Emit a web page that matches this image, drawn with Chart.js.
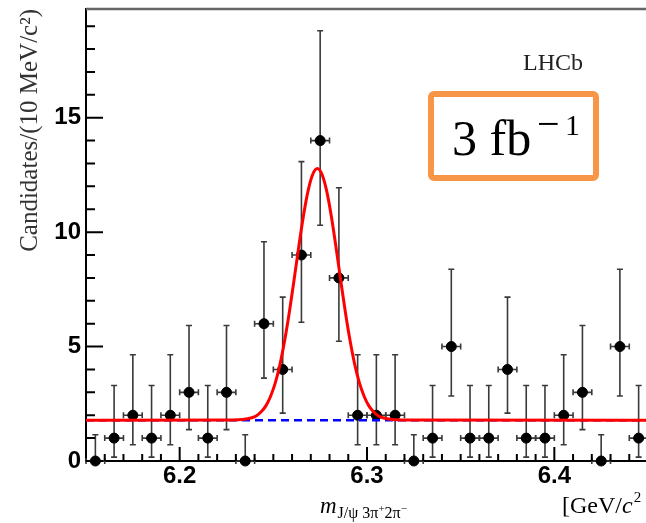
<!DOCTYPE html>
<html>
<head>
<meta charset="utf-8">
<script src="https://cdn.jsdelivr.net/npm/chart.js@4.4.1/dist/chart.umd.min.js"></script>
<style>
  html, body { margin: 0; padding: 0; background: #fff; overflow: hidden; }
  #contenedor { width: 648px; height: 523px; }
</style>
</head>
<body>
<div id="contenedor"><canvas id="graficoMasa" width="648" height="523"></canvas></div>
<script>
// datos del histograma (centros de bin de 10 MeV)
const centrosBin = [
  6.155, 6.165, 6.175, 6.185, 6.195, 6.205, 6.215, 6.225, 6.235, 6.245,
  6.255, 6.265, 6.275, 6.285, 6.295, 6.305, 6.315, 6.325, 6.335, 6.345,
  6.355, 6.365, 6.375, 6.385, 6.395, 6.405, 6.415, 6.425, 6.435, 6.445,
];
const conteos = [0, 1, 2, 1, 2, 3, 1, 3, 0, 6, 4, 9, 14, 8, 2, 2, 2, 0, 1, 5, 1, 1, 4, 1, 1, 2, 3, 0, 5, 1];
const limiteInferior = [
  0, 0.17, 0.71, 0.17, 0.71, 1.37, 0.17, 1.37, 0, 3.62,
  2.09, 6.06, 10.3, 5.23, 0.71, 0.71, 0.71, 0, 0.17, 2.84,
  0.17, 0.17, 2.09, 0.17, 0.17, 0.71, 1.37, 0, 2.84, 0.17,
];
const limiteSuperior = [
  1.15, 3.3, 4.64, 3.3, 4.64, 5.92, 3.3, 5.92, 1.15, 9.58,
  7.16, 13.08, 18.8, 11.94, 4.64, 4.64, 4.64, 1.15, 3.3, 8.38,
  3.3, 3.3, 7.16, 3.3, 3.3, 4.64, 5.92, 1.15, 8.38, 3.3,
];
const medioAnchoBin = 0.005;

// curva del ajuste
const ajusteX = [
  6.15, 6.2285, 6.2335, 6.2385, 6.241, 6.2435, 6.246, 6.2485, 6.251, 6.2535, 6.256,
  6.2585, 6.261, 6.2635, 6.266, 6.2685, 6.271, 6.2735, 6.276, 6.2785, 6.281, 6.2835,
  6.286, 6.2885, 6.291, 6.2935, 6.296, 6.2985, 6.301, 6.3035, 6.306, 6.3085, 6.3135,
  6.3185, 6.45,
];
const ajusteY = [
  1.78, 1.79, 1.81, 1.89, 1.98, 2.15, 2.41, 2.82, 3.4, 4.2, 5.24,
  6.48, 7.87, 9.32, 10.67, 11.79, 12.52, 12.78, 12.52, 11.79, 10.67, 9.32,
  7.87, 6.48, 5.24, 4.2, 3.4, 2.82, 2.41, 2.15, 1.98, 1.89, 1.81,
  1.79, 1.78,
];
const fondoX = [6.15, 6.45];
const fondoY = [1.78, 1.78];

const ticksX = [6.2, 6.3, 6.4];
const ticksY = [0, 5, 10, 15];

const SERIF = "'Liberation Serif', 'Times New Roman', serif";
const SANS = "'Liberation Sans', Arial, sans-serif";

const aPuntos = (xs, ys) => xs.map((x, i) => ({ x, y: ys[i] }));

const pluginErrores = {
  id: "barrasError",
  beforeDatasetsDraw(chart) {
    const { ctx, scales: { x, y } } = chart;
    ctx.save();
    ctx.strokeStyle = "#3a3a3a";
    ctx.lineWidth = 1.6;
    centrosBin.forEach((centro, i) => {
      const px = x.getPixelForValue(centro);
      const py = y.getPixelForValue(conteos[i]);
      const yLo = y.getPixelForValue(limiteInferior[i]);
      const yHi = y.getPixelForValue(limiteSuperior[i]);
      const xLo = x.getPixelForValue(centro - medioAnchoBin);
      const xHi = x.getPixelForValue(centro + medioAnchoBin);
      ctx.beginPath();
      ctx.moveTo(px, yLo);
      ctx.lineTo(px, yHi);
      ctx.moveTo(px - 3, yHi);
      ctx.lineTo(px + 3, yHi);
      if (limiteInferior[i] > 0) {
        ctx.moveTo(px - 3, yLo);
        ctx.lineTo(px + 3, yLo);
      }
      ctx.moveTo(xLo, py);
      ctx.lineTo(xHi, py);
      ctx.moveTo(xLo, py - 3);
      ctx.lineTo(xLo, py + 3);
      ctx.moveTo(xHi, py - 3);
      ctx.lineTo(xHi, py + 3);
      ctx.stroke();
    });
    ctx.restore();
  },
};

const pluginMarco = {
  id: "marcoRoot",
  afterDraw(chart) {
    const { ctx, chartArea: area, scales: { x, y } } = chart;
    ctx.save();

    // borde superior
    ctx.strokeStyle = "#666";
    ctx.lineWidth = 2.5;
    ctx.beginPath();
    ctx.moveTo(area.left, area.top);
    ctx.lineTo(area.right, area.top);
    ctx.stroke();

    // ticks hacia adentro
    ctx.strokeStyle = "#000";
    ctx.lineWidth = 2;
    ctx.beginPath();
    for (let v = 0; v <= y.max; v += 1) {
      const py = y.getPixelForValue(v);
      const largo = v % 5 === 0 ? 17 : 9;
      ctx.moveTo(area.left, py);
      ctx.lineTo(area.left + largo, py);
    }
    for (let k = Math.round(x.min * 100) + 1; k < Math.round(x.max * 100); k++) {
      const px = x.getPixelForValue(k / 100);
      const largo = k % 10 === 0 ? 14 : 7;
      ctx.moveTo(px, area.bottom);
      ctx.lineTo(px, area.bottom - largo);
    }
    ctx.stroke();

    // LHCb
    ctx.fillStyle = "#222";
    ctx.textBaseline = "alphabetic";
    ctx.textAlign = "left";
    ctx.font = `24px ${SERIF}`;
    ctx.fillText("LHCb", 523, 70);

    // recuadro de luminosidad
    ctx.strokeStyle = "#F79646";
    ctx.lineWidth = 6;
    ctx.beginPath();
    ctx.roundRect(431, 94, 165, 84, 3);
    ctx.stroke();
    ctx.fillStyle = "#000";
    ctx.font = `50px ${SERIF}`;
    ctx.fillText("3 fb", 452, 155);
    ctx.font = `40px ${SERIF}`;
    ctx.fillText("\u2212", 537, 137);
    ctx.font = `30px ${SERIF}`;
    ctx.fillText("1", 565, 135);

    // titulo eje x
    let cx = 320;
    ctx.font = `italic 23px ${SERIF}`;
    ctx.fillText("m", cx, 513);
    cx += ctx.measureText("m").width + 1;
    const trozos = [
      ["J/\u03c8 3\u03c0", 16, 518],
      ["+", 11, 512],
      ["2\u03c0", 16, 518],
      ["\u2212", 11, 512],
    ];
    trozos.forEach(([texto, tam, base]) => {
      ctx.font = `${tam}px ${SERIF}`;
      ctx.fillText(texto, cx, base);
      cx += ctx.measureText(texto).width;
    });

    cx = 562;
    ctx.font = `24px ${SERIF}`;
    ctx.fillText("[GeV/", cx, 513);
    cx += ctx.measureText("[GeV/").width;
    ctx.font = `italic 24px ${SERIF}`;
    ctx.fillText("c", cx, 513);
    cx += ctx.measureText("c").width + 1;
    ctx.font = `15px ${SERIF}`;
    ctx.fillText("2", cx, 502);

    ctx.restore();
  },
};

const inicializarGraficoMasa = () => {
  const canvas = document.getElementById("graficoMasa");
  if (!canvas || !window.Chart) return;

  window.graficoMasa = new Chart(canvas, {
    type: "scatter",
    data: {
      datasets: [
        {
          label: "Ajuste",
          type: "line",
          data: aPuntos(ajusteX, ajusteY),
          borderColor: "#ff0000",
          borderWidth: 3,
          pointRadius: 0,
          cubicInterpolationMode: "monotone",
          fill: false,
          order: 0,
        },
        {
          label: "Fondo",
          type: "line",
          data: aPuntos(fondoX, fondoY),
          borderColor: "#0000ff",
          borderWidth: 2.5,
          borderDash: [8, 5],
          pointRadius: 0,
          fill: false,
          order: 1,
        },
        {
          label: "Datos",
          data: aPuntos(centrosBin, conteos),
          backgroundColor: "#000",
          borderColor: "#000",
          pointRadius: 5,
          clip: false,
          order: 2,
        },
      ],
    },
    options: {
      responsive: false,
      animation: false,
      devicePixelRatio: 1,
      layout: { autoPadding: false, padding: { top: 9, right: 0, left: 0, bottom: 0 } },
      plugins: {
        legend: { display: false },
        tooltip: { enabled: false },
      },
      scales: {
        x: {
          type: "linear",
          min: 6.15,
          max: 6.45,
          grid: { display: false, drawTicks: false },
          border: { display: true, color: "#000", width: 2 },
          afterBuildTicks: (escala) => {
            escala.ticks = ticksX.map((value) => ({ value }));
          },
          afterFit: (escala) => {
            escala.height = 62;
            escala.paddingLeft = 0;
            escala.paddingRight = 0;
          },
          ticks: {
            padding: 1,
            color: "#000",
            font: { family: SANS, size: 24, weight: "bold" },
            callback: (val) => val.toFixed(1),
          },
        },
        y: {
          min: 0,
          max: 19.75,
          grid: { display: false, drawTicks: false },
          border: { display: true, color: "#000", width: 2 },
          afterBuildTicks: (escala) => {
            escala.ticks = ticksY.map((value) => ({ value }));
          },
          afterFit: (escala) => {
            escala.width = 86;
            escala.paddingTop = 0;
            escala.paddingBottom = 0;
          },
          ticks: {
            padding: 5,
            color: "#000",
            font: { family: SANS, size: 24, weight: "bold" },
          },
          title: {
            display: true,
            text: "Candidates/(10 MeV/c\u00b2)",
            align: "end",
            color: "#333",
            font: { family: SERIF, size: 25 },
            padding: { top: 15, bottom: 0 },
          },
        },
      },
    },
    plugins: [pluginErrores, pluginMarco],
  });
};

inicializarGraficoMasa();
</script>
</body>
</html>
